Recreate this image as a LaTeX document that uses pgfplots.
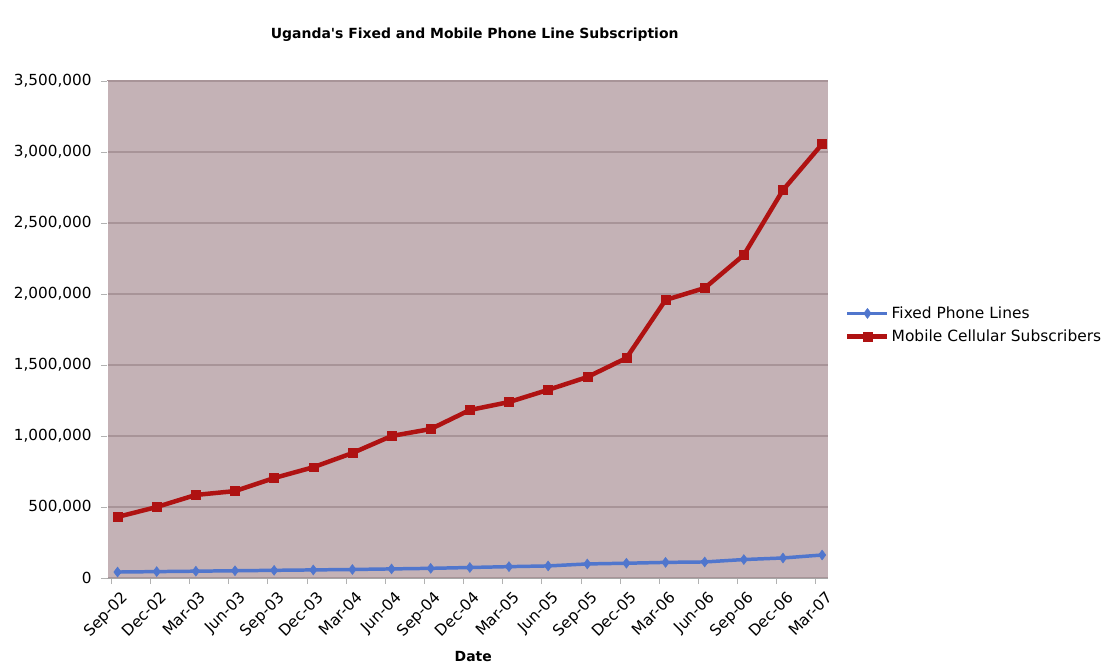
\documentclass[border=0pt]{standalone}
\usepackage{pgfplots}
\pgfplotsset{compat=1.18}
\usepackage{fontspec}
\setmainfont{DejaVu Sans}
\definecolor{plotbg}{RGB}{196,178,182}
\definecolor{gridc}{RGB}{168,148,152}
\definecolor{mobred}{RGB}{175,18,18}
\definecolor{fixblue}{RGB}{80,118,205}
\begin{document}
\begin{tikzpicture}
\begin{axis}[
  at={(0,0)}, anchor=south west,
  scale only axis, width=721bp, height=497bp,
  xmin=-0.27, xmax=18.15,
  ymin=0, ymax=3500000,
  scaled y ticks=false,
  xtick={-0.16,0.84,1.84,2.84,3.84,4.84,5.84,6.84,7.84,8.84,9.84,10.84,11.84,12.84,13.84,14.84,15.84,16.84,17.84},
  xticklabels={Sep-02,Dec-02,Mar-03,Jun-03,Sep-03,Dec-03,Mar-04,Jun-04,Sep-04,Dec-04,Mar-05,Jun-05,Sep-05,Dec-05,Mar-06,Jun-06,Sep-06,Dec-06,Mar-07},
  xticklabel style={rotate=45, anchor=north east, font=\fontsize{15.5}{15.5}\selectfont, inner sep=1pt, xshift=3bp, yshift=-10bp},
  ytick={0,500000,1000000,1500000,2000000,2500000,3000000,3500000},
  yticklabels={0,{500,000},{1,000,000},{1,500,000},{2,000,000},{2,500,000},{3,000,000},{3,500,000}},
  yticklabel style={font=\fontsize{15.3}{15.3}\selectfont, xshift=-6bp},
  ymajorgrids, grid style={gridc, line width=1.2pt},
  axis background/.style={fill=plotbg},
  axis x line*=bottom, axis y line*=left,
  x axis line style={-, draw=gray!70, line width=1pt},
  y axis line style={-, draw=white},
  xtick style={draw=gray!60, line width=0.8pt},
  major tick length=6bp,
  ytick style={draw=gray!60},
  tick align=outside,
  xlabel={\textbf{Date}},
  xlabel style={font=\fontsize{14}{14}\selectfont, at={(axis description cs:0.508,0)}, anchor=center, yshift=-79bp},
  title={\textbf{Uganda\textquotesingle s Fixed and Mobile Phone Line Subscription}},
  title style={font=\fontsize{14}{14}\selectfont, at={(0.51,1)}, anchor=center, yshift=40bp},
  legend style={draw=none, fill=none, at={(1.0236,0.509)}, anchor=west, font=\fontsize{15.5}{15.5}\selectfont, row sep=6bp, cells={anchor=west}, inner sep=0pt},
  legend image code/.code={\draw[mark repeat=2,mark phase=2] plot coordinates {(0bp,0bp)(20bp,0bp)(40bp,0bp)};},
]
\addplot[fixblue, line width=3.5pt, mark=diamond*, mark size=5pt, mark options={solid, fill=fixblue, line width=0.5pt}]
coordinates {(0,42000)(1,45000)(2,48000)(3,51000)(4,54000)(5,57000)(6,60000)(7,64000)(8,68000)(9,74000)(10,80000)(11,85000)(12,99000)(13,104000)(14,110000)(15,113000)(16,130000)(17,141000)(18,162000)};
\addlegendentry{Fixed Phone Lines}
\addplot[mobred, line width=4.5pt, mark=square*, mark size=4.5pt, mark options={solid, fill=mobred, line width=0.5pt}]
coordinates {(0,430000)(1,500000)(2,585000)(3,612000)(4,704000)(5,780000)(6,880000)(7,1000000)(8,1049000)(9,1183000)(10,1239000)(11,1325000)(12,1415000)(13,1549000)(14,1958000)(15,2042000)(16,2275000)(17,2732000)(18,3056000)};
\addlegendentry{Mobile Cellular Subscribers}
\end{axis}
\path[use as bounding box] (-107bp,-94bp) rectangle (1008bp,578bp);
\end{tikzpicture}
\end{document}
